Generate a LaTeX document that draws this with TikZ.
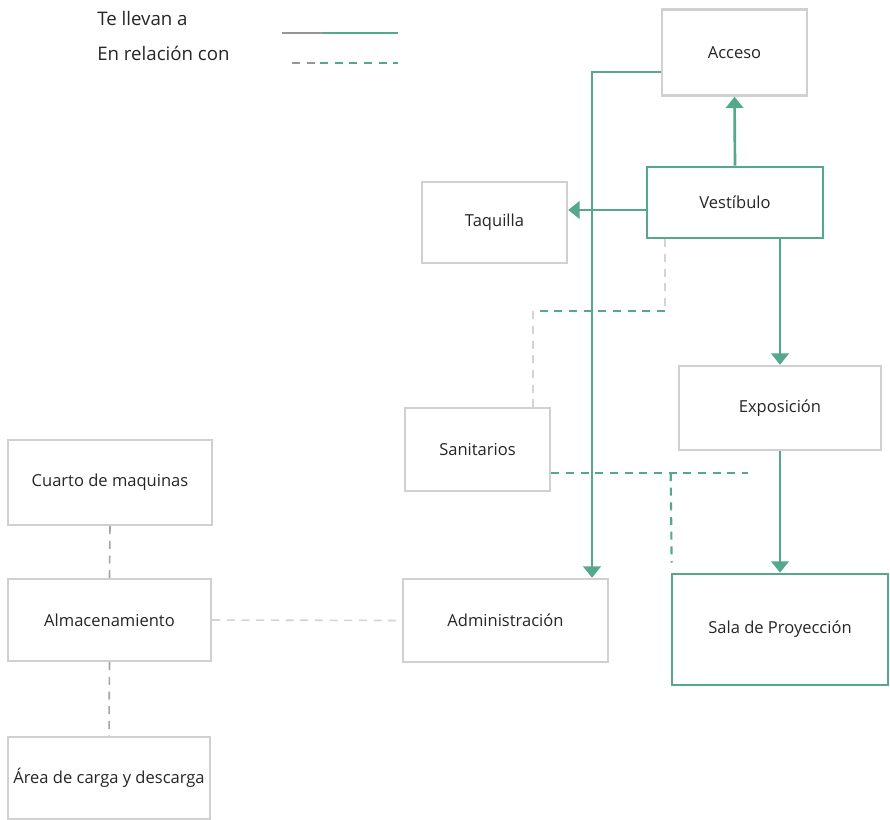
\documentclass[tikz,border=0pt]{standalone}
\usepackage{fontspec}
\setmainfont{Open Sans}
\usetikzlibrary{arrows.meta,calc}
\definecolor{vgreen}{RGB}{86,168,140}
\definecolor{bgray}{RGB}{208,208,208}
\definecolor{dgray}{RGB}{165,165,165}
\definecolor{lgray}{RGB}{212,212,212}
\definecolor{legray}{RGB}{150,150,150}
\begin{document}
\begin{tikzpicture}[x=0.75pt,y=-0.75pt,
  font=\fontsize{12.4}{15}\selectfont,
  box/.style={draw=bgray,line width=1.8pt,rectangle,inner sep=0pt,text=black!85},
  gbox/.style={draw=vgreen,line width=2pt,rectangle,inner sep=0pt,text=black!85},
  sz/.style 2 args={minimum width={#1*0.75pt},minimum height={#2*0.75pt}},
  legtext/.style={anchor=west,inner sep=0pt,text=black!85,font=\fontsize{14}{16}\selectfont},
  arr/.style={draw=vgreen,line width=2pt,-{Triangle[width=13pt,length=8.5pt]}},
  rel/.style={draw=vgreen,line width=1.6pt,dash pattern=on 6pt off 5pt},
  relgray/.style={draw=dgray,line width=1.2pt,dash pattern=on 6pt off 5pt},
  rellight/.style={draw=lgray,line width=1.2pt,dash pattern=on 6pt off 5pt}]
\useasboundingbox (0,0) rectangle (890,819);
\fill[white] (0,0) rectangle (890,819);

% legend
\node[legtext] (l1) at (97,18) {Te llevan a};
\node[legtext] (l2) at (97,53) {En relación con};
\coordinate (la) at (282,33); \coordinate (lm) at (323,33); \coordinate (lb) at (398,33);
\coordinate (lc) at (292,63); \coordinate (ln) at (320,63); \coordinate (ld) at (398,63);
\draw[draw=legray,line width=1.6pt] (la) -- (lm);
\draw[draw=vgreen,line width=1.6pt] (lm) -- (lb);
\draw[draw=legray,line width=1.6pt,dash pattern=on 6pt off 5pt] (lc) -- (ln);
\draw[rel] (ln) -- (ld);

% nodes
\node[box,sz={145}{86}] (acceso) at (734.5,52.5) {Acceso};
\node[gbox,sz={176}{71}] (vest) at (735,202.5) {Vestíbulo};
\node[box,sz={145}{81}] (taq) at (494.5,222.5) {Taquilla};
\node[box,sz={202}{84}] (expo) at (780,408) {Exposición};
\node[box,sz={145}{83}] (sani) at (477.5,449.5) {Sanitarios};
\node[box,sz={205}{83}] (admin) at (505.5,620.5) {Administración};
\node[gbox,sz={216}{111}] (sala) at (780,629.5) {Sala de Proyección};
\node[box,sz={204}{85}] (cuarto) at (110,482.5) {Cuarto de maquinas};
\node[box,sz={203}{82}] (alma) at (109.5,620) {Almacenamiento};
\node[box,sz={202}{82}] (area) at (109,778) {Área de carga y descarga};

% "te llevan a"
\draw[arr] (vest.north) -- (acceso.south);
\draw[arr] ($(vest.west)+(0,7.5)$) -- ($(vest.west -| taq.east)+(0,7.5)$);
\draw[arr] (expo.north |- vest.south) -- (expo.north);
\draw[arr] (expo.south) -- (expo.south |- sala.north);
\draw[arr] ($(acceso.west)+(0,19.5)$) -| ($(admin.north)+(86.5,0)$);

% "en relacion con"
\coordinate (vs) at ($(vest.south)+(-70,0)$);
\coordinate (sn) at ($(sani.north)+(55.5,0)$);
\coordinate (j1) at ($(vs)+(0,72)$);
\coordinate (j2) at (sn |- j1);
\draw[rellight] (vs) -- (j1);
\draw[rel] (j1) -- (j2);
\draw[rellight] (j2) -- (sn);

\coordinate (j3) at ($(sani.east)+(197,23.5)$);
\draw[rel] ($(sani.east)+(0,23.5)$) -- (j3);
\draw[rel] (sala.north west |- j3) -- ($(sala.north west)+(1,-10)$);

\draw[relgray] (cuarto.south) -- (alma.north);
\draw[relgray] (alma.south) -- (area.north);
\draw[rellight] (alma.east) -- (admin.west);
\end{tikzpicture}
\end{document}
